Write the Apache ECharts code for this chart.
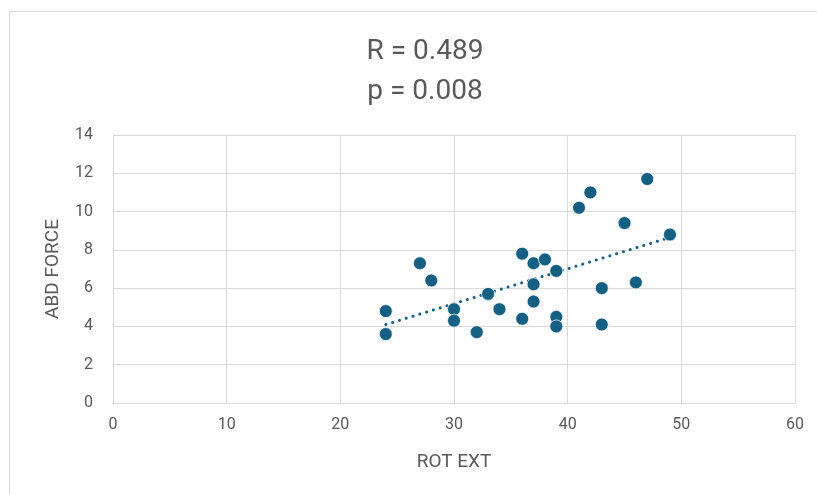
<!DOCTYPE html>
<html>
<head>
<meta charset="utf-8">
<script src="https://cdn.jsdelivr.net/npm/echarts@6/dist/echarts.min.js"></script>
<style>
  html, body { margin: 0; padding: 0; background: #fff; }
  #chart { width: 817px; height: 494px; }
</style>
</head>
<body>
<div id="chart"></div>
<script>
// ROT EXT vs ABD FORCE measurements
const rotExt   = [24, 24, 27, 28, 30, 30, 32, 33, 34, 36, 36, 37, 37, 37, 38, 39, 39, 39, 41, 42, 43, 43, 45, 46, 47, 49];
const abdForce = [4.8, 3.6, 7.3, 6.4, 4.9, 4.3, 3.7, 5.7, 4.9, 7.8, 4.4, 7.3, 6.2, 5.3, 7.5, 6.9, 4.5, 4.0, 10.2, 11.0, 6.0, 4.1, 9.4, 6.3, 11.7, 8.8];
const titleLines = ['R = 0.489', 'p = 0.008'];
const xTicks = [0, 10, 20, 30, 40, 50, 60];
const yTicks = [0, 2, 4, 6, 8, 10, 12, 14];

const points = rotExt.map((x, i) => [x, abdForce[i]]);

// least-squares linear trend across the observed x range
const n = rotExt.length;
const mx = rotExt.reduce((a, b) => a + b, 0) / n;
const my = abdForce.reduce((a, b) => a + b, 0) / n;
let sxy = 0, sxx = 0;
for (let i = 0; i < n; i++) {
  sxy += (rotExt[i] - mx) * (abdForce[i] - my);
  sxx += (rotExt[i] - mx) * (rotExt[i] - mx);
}
const slope = sxy / sxx;
const intercept = my - slope * mx;
const xMin = Math.min(...rotExt), xMax = Math.max(...rotExt);
const trend = [[xMin, intercept + slope * xMin], [xMax, intercept + slope * xMax]];

const markColor = '#156082';
const textColor = '#595959';
const gridColor = '#d9d9d9';
const font = 'Roboto, "Liberation Sans", sans-serif';

const chart = echarts.init(document.getElementById('chart'), null, { renderer: 'canvas' });
chart.setOption({
  backgroundColor: '#ffffff',
  animation: false,
  graphic: [{
    type: 'rect',
    shape: { x: 9.5, y: 11.5, width: 900, height: 600 },
    style: { fill: 'none', stroke: gridColor, lineWidth: 1 },
    silent: true
  }],
  title: {
    text: titleLines.join('\n'),
    left: 420,
    textAlign: 'center',
    top: 27,
    textStyle: {
      fontFamily: font,
      fontSize: 28,
      fontWeight: 'normal',
      color: textColor,
      lineHeight: 40
    }
  },
  grid: { left: 113, right: 22, top: 135, bottom: 91, containLabel: false },
  xAxis: {
    type: 'value',
    min: xTicks[0],
    max: xTicks[xTicks.length - 1],
    interval: xTicks[1] - xTicks[0],
    name: 'ROT EXT',
    nameLocation: 'middle',
    nameGap: 50,
    nameTextStyle: { fontFamily: font, fontSize: 19, color: textColor },
    axisLine: { show: true, lineStyle: { color: gridColor, width: 1 } },
    axisTick: { show: false },
    axisLabel: { fontFamily: font, fontSize: 16, color: textColor, margin: 14 },
    splitLine: { show: true, lineStyle: { color: gridColor, width: 1 } }
  },
  yAxis: {
    type: 'value',
    min: yTicks[0],
    max: yTicks[yTicks.length - 1],
    interval: yTicks[1] - yTicks[0],
    name: 'ABD FORCE',
    nameLocation: 'middle',
    nameGap: 50,
    nameRotate: 90,
    nameTextStyle: { fontFamily: font, fontSize: 19, color: textColor },
    axisLine: { show: true, lineStyle: { color: gridColor, width: 1 } },
    axisTick: { show: false },
    axisLabel: { fontFamily: font, fontSize: 16, color: textColor, margin: 20 },
    splitLine: { show: true, lineStyle: { color: gridColor, width: 1 } }
  },
  series: [
    {
      type: 'line',
      data: trend,
      symbol: 'none',
      z: 3,
      lineStyle: { color: markColor, width: 3, type: [0.1, 7], cap: 'round' }
    },
    {
      type: 'scatter',
      data: points,
      symbol: 'circle',
      symbolSize: 13,
      z: 4,
      itemStyle: { color: markColor, borderColor: '#ffffff', borderWidth: 0.75, opacity: 1 }
    }
  ]
});
</script>
</body>
</html>
